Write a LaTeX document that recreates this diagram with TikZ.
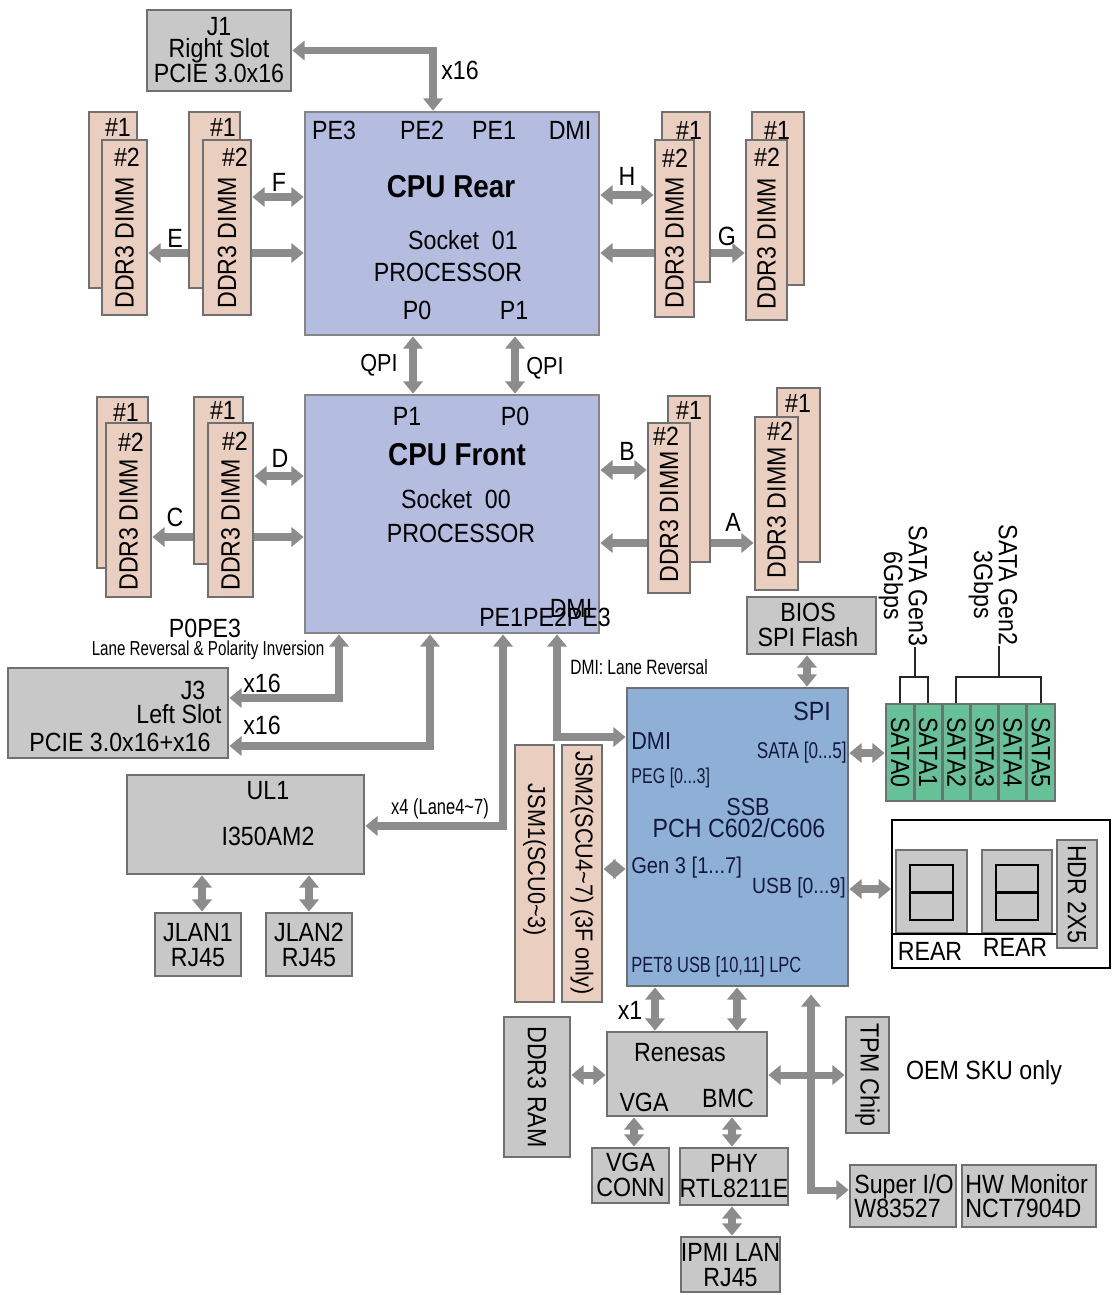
\documentclass[tikz,border=0pt]{standalone}
\usepackage{fontspec}
\setmainfont[FakeStretch=0.88]{Liberation Sans}
\newfontfamily\condf[FakeStretch=0.75]{Liberation Sans}
\usetikzlibrary{arrows.meta,fit,backgrounds}
\definecolor{boxgray}{RGB}{200,200,200}
\definecolor{bdr}{RGB}{112,112,112}
\definecolor{cpufill}{RGB}{180,188,224}
\definecolor{pchfill}{RGB}{143,176,214}
\definecolor{dimmfill}{RGB}{234,206,192}
\definecolor{satafill}{RGB}{102,192,152}
\definecolor{busgray}{RGB}{140,140,140}
\definecolor{navy}{RGB}{20,25,60}
\newcommand\fa{\fontsize{15}{14}\selectfont}
\tikzset{
 gbox/.style={draw=bdr, fill=boxgray, line width=1.6pt, inner sep=0pt},
 cpubox/.style={gbox, fill=cpufill, draw=bdr!85},
 pchbox/.style={gbox, fill=pchfill},
 dimm/.style={gbox, fill=dimmfill},
 satabox/.style={gbox, fill=satafill},
 txt/.style={inner sep=0pt, font=\fa, align=center},
 ptxt/.style={txt, text=navy},
 ctxt/.style={inner sep=0pt, align=center, font=\condf\fontsize{12}{13}\selectfont},
 bt/.tip={Triangle[width=11pt,length=7pt]},
 bus/.style={draw=busgray, line width=4pt},
 busd/.style={bus, bt-bt},
 busl/.style={bus, bt-},
 busr/.style={bus, -bt},
 brk/.style={draw=black!85, line width=1.2pt},
}
\begin{document}
\begin{tikzpicture}[x=0.02cm,y=-0.02cm]
\useasboundingbox (0,0) rectangle (1118,1295);
\begin{scope}[on background layer]
\fill[white] (0,0) rectangle (1118,1295);
\end{scope}

% ---------- J1 ----------
\node[gbox, fit={(147,10)(291,91)}] (j1) {};
\node[txt, font=\fontsize{15}{12.5}\selectfont] (j1t) at (219,50) {J1\\Right Slot\\PCIE 3.0x16};
\node[txt] (x16a) at (460,70) {x16};

% ---------- CPU Rear ----------
\node[cpubox, fit={(305,112)(599,335)}] (cpur) {};
\node[txt] (r-pe3) at (334,130) {PE3};
\node[txt] (r-pe2) at (422,130) {PE2};
\node[txt] (r-pe1) at (494,130) {PE1};
\node[txt] (r-dmi) at (570,130) {DMI};
\node[txt, font=\fontsize{18}{18}\bfseries] (r-title) at (451,187) {CPU Rear};
\node[txt] (r-sock) at (463,240) {Socket~~01};
\node[txt] (r-proc) at (448,272) {PROCESSOR};
\node[txt] (r-p0) at (417,310) {P0};
\node[txt] (r-p1) at (514,310) {P1};

% ---------- CPU Front ----------
\node[cpubox, fit={(305,395)(599,633)}] (cpuf) {};
\node[txt] (f-p1) at (407,416) {P1};
\node[txt] (f-p0) at (515,416) {P0};
\node[txt, font=\fontsize{18}{18}\bfseries] (f-title) at (457,455) {CPU Front};
\node[txt] (f-sock) at (456,499) {Socket~~00};
\node[txt] (f-proc) at (461,533) {PROCESSOR};
\node[txt] (f-pe) at (545,617) {PE1PE2PE3};
\node[txt] (f-dmi) at (571,608) {DMI};
\node[txt, font=\fontsize{14}{14}\selectfont] (qpi1) at (379,365) {QPI};
\node[txt, font=\fontsize{14}{14}\selectfont] (qpi2) at (545,368) {QPI};

% ---------- DIMMs top-left ----------
\node[dimm, fit={(89,112)(137,288)}] (e1) {};
\node[txt] (e1l) at (118,127) {\#1};
\node[dimm, fit={(102,140)(147,315)}] (e2) {};
\node[txt] (e2l) at (127,157) {\#2};
\node[txt, rotate=90] (e2t) at (124.5,243) {DDR3 DIMM};
\node[dimm, fit={(189,112)(240,288)}] (f1) {};
\node[txt] (f1l) at (223,127) {\#1};
\node[dimm, fit={(203,140)(251,315)}] (f2) {};
\node[txt] (f2l) at (235,157) {\#2};
\node[txt, rotate=90] (f2t) at (227,243) {DDR3 DIMM};
\node[txt] (lblF) at (279,182) {F};
\node[txt] (lblE) at (175,238) {E};

% ---------- DIMMs top-right ----------
\node[dimm, fit={(662,112)(710,282)}] (h1) {};
\node[txt] (h1l) at (689,130) {\#1};
\node[dimm, fit={(655,140)(694,317)}] (h2) {};
\node[txt] (h2l) at (675,158) {\#2};
\node[txt, rotate=90] (h2t) at (674.5,243) {DDR3 DIMM};
\node[dimm, fit={(752,112)(804,285)}] (g1) {};
\node[txt] (g1l) at (777,130) {\#1};
\node[dimm, fit={(746,140)(787,320)}] (g2) {};
\node[txt] (g2l) at (767,157) {\#2};
\node[txt, rotate=90] (g2t) at (766.5,244) {DDR3 DIMM};
\node[txt] (lblH) at (627,176) {H};
\node[txt] (lblG) at (727,236) {G};

% ---------- DIMMs bottom-left ----------
\node[dimm, fit={(97,397)(148,568)}] (c1) {};
\node[txt] (c1l) at (126,412) {\#1};
\node[dimm, fit={(106,423)(151,597)}] (c2) {};
\node[txt] (c2l) at (131,442) {\#2};
\node[txt, rotate=90] (c2t) at (128.5,525) {DDR3 DIMM};
\node[dimm, fit={(194,397)(243,564)}] (d1) {};
\node[txt] (d1l) at (223,410) {\#1};
\node[dimm, fit={(208,423)(253,597)}] (d2) {};
\node[txt] (d2l) at (235,441) {\#2};
\node[txt, rotate=90] (d2t) at (230.5,525) {DDR3 DIMM};
\node[txt] (lblD) at (280,458) {D};
\node[txt] (lblC) at (175,517) {C};

% ---------- DIMMs bottom-right ----------
\node[dimm, fit={(668,396)(710,562)}] (b1) {};
\node[txt] (b1l) at (689,410) {\#1};
\node[dimm, fit={(648,423)(690,593)}] (b2) {};
\node[txt] (b2l) at (666,436) {\#2};
\node[txt, rotate=90] (b2t) at (669,517) {DDR3 DIMM};
\node[dimm, fit={(777,388)(820,562)}] (a1) {};
\node[txt] (a1l) at (798,403) {\#1};
\node[dimm, fit={(755,417)(798,590)}] (a2) {};
\node[txt] (a2l) at (780,431) {\#2};
\node[txt, rotate=90] (a2t) at (776.5,513) {DDR3 DIMM};
\node[txt] (lblB) at (627,451) {B};
\node[txt] (lblA) at (733,522) {A};

% ---------- J3, UL1, JLAN ----------
\node[txt] (p0pe3) at (205,628) {P0PE3};
\node[ctxt, font=\condf\fontsize{11.5}{12}\selectfont] (lrpi) at (208,650) {Lane Reversal \& Polarity Inversion};
\node[gbox, fit={(8,668)(228,758)}] (j3) {};
\node[txt] (j3a) at (193,690) {J3};
\node[txt] (j3b) at (179,714) {Left Slot};
\node[txt] (j3c) at (120,742) {PCIE 3.0x16+x16};
\node[txt] (x16b) at (262,683) {x16};
\node[txt] (x16c) at (262,725) {x16};

\node[gbox, fit={(127,775)(364,874)}] (ul1) {};
\node[txt] (ul1a) at (268,791) {UL1};
\node[txt] (ul1b) at (268,836) {I350AM2};
\node[ctxt, font=\condf\fontsize{12.5}{13}\selectfont] (x4) at (440,809) {x4 (Lane4\textasciitilde7)};

\node[gbox, fit={(155,913)(241,976)}] (jlan1) {};
\node[txt] (jlan1t) at (198,945) {JLAN1\\RJ45};
\node[gbox, fit={(266,913)(352,976)}] (jlan2) {};
\node[txt] (jlan2t) at (309,945) {JLAN2\\RJ45};

% ---------- JSM ----------
\node[dimm, fit={(515,745)(554,1002)}] (jsm1) {};
\node[txt, rotate=-90, font=\fontsize{14}{14}\selectfont] (jsm1t) at (534.5,860) {JSM1(SCU0\textasciitilde3)};
\node[dimm, fit={(562,745)(602,1002)}] (jsm2) {};
\node[txt, rotate=-90, font=\fontsize{14}{14}\selectfont] (jsm2t) at (582,873) {JSM2(SCU4\textasciitilde7) (3F only)};

% ---------- PCH ----------
\node[txt, anchor=west, font=\condf\fontsize{11.8}{12}\selectfont] (dmilr) at (570,667) {DMI: Lane Reversal};
\node[pchbox, fit={(627,688)(848,986)}] (pch) {};
\node[ptxt] (p-spi) at (812,711) {SPI};
\node[ptxt, anchor=west, font=\fontsize{14}{14}\selectfont] (p-dmi) at (631,741) {DMI};
\node[ptxt, anchor=east, font=\condf\fontsize{13}{13}\selectfont] (p-sata) at (847,753) {SATA [0...5]};
\node[ptxt, anchor=west, font=\condf\fontsize{12.2}{13}\selectfont] (p-peg) at (631,778) {PEG [0...3]};
\node[ptxt, font=\fontsize{14}{14}\selectfont] (p-ssb) at (748,807) {SSB};
\node[ptxt] (p-name) at (739,828) {PCH C602/C606};
\node[ptxt, anchor=west, font=\fontsize{13}{13}\selectfont] (p-gen3) at (631,868) {Gen 3 [1...7]};
\node[ptxt, anchor=east, font=\fontsize{12.5}{13}\selectfont] (p-usb) at (846,888) {USB [0...9]};
\node[ptxt, anchor=west, font=\condf\fontsize{12.5}{13}\selectfont] (p-pet) at (631,967) {PET8 USB [10,11] LPC};

\node[gbox, fit={(747,597)(876,654)}] (bios) {};
\node[txt] (biost) at (808,625) {BIOS\\SPI Flash};

% ---------- SATA ----------
\foreach \i in {0,...,5}{
  \node[satabox, fit={(886+28.17*\i,704)(886+28.17*\i+28.17,801)}] (sata\i) {};
  \node[txt, rotate=-90] (sata\i t) at (sata\i.center) {SATA\i};
}
\node[txt, rotate=-90] (gen3) at (903,586) {SATA Gen3\\6Gbps};
\node[txt, rotate=-90] (gen2) at (993,585) {SATA Gen2\\3Gbps};
\coordinate (g3j) at (915,677);
\coordinate (g2j) at (999,677);
\draw[brk] (sata0.north) |- (g3j) -| (sata1.north);
\draw[brk] (g3j) -- (g3j |- gen3.east);
\draw[brk] (sata2.north) |- (g2j) -| (sata5.north);
\draw[brk] (g2j) -- (g2j |- gen2.east);

% ---------- USB / REAR ----------
\node[draw=black, fill=white, line width=1.2pt, inner sep=0pt, fit={(892,820)(1110,968)}] (usb) {};
\node[gbox, fit={(896,850)(967,933)}] (rear1) {};
\node[draw=black, fill=boxgray, line width=1.2pt, inner sep=0pt, fit={(910,865)(953,920)}] (rear1i) {};
\draw[line width=1.2pt] (rear1i.west) -- (rear1i.east);
\node[gbox, fit={(982,850)(1052,933)}] (rear2) {};
\node[draw=black, fill=boxgray, line width=1.2pt, inner sep=0pt, fit={(996,865)(1038,920)}] (rear2i) {};
\draw[line width=1.2pt] (rear2i.west) -- (rear2i.east);
\node[gbox, fit={(1057,840)(1097,948)}] (hdr) {};
\node[txt, rotate=-90] (hdrt) at (hdr.center) {HDR 2X5};
\draw[line width=1.6pt] (usb.west |- 0,934) -- (hdr.west |- 0,934);
\node[txt] (rear1t) at (930,951) {REAR};
\node[txt] (rear2t) at (1015,947) {REAR};

% ---------- Bottom ----------
\node[txt] (x1) at (630,1010) {x1};
\node[gbox, fit={(504,1017)(570,1157)}] (ddr) {};
\node[txt, rotate=-90] (ddrt) at (ddr.center) {DDR3 RAM};
\node[gbox, fit={(607,1032)(767,1116)}] (ren) {};
\node[txt] (rena) at (680,1053) {Renesas};
\node[txt] (renb) at (644,1102) {VGA};
\node[txt] (renc) at (728,1098) {BMC};
\node[gbox, fit={(592,1148)(669,1203)}] (vga) {};
\node[txt] (vgat) at (630.5,1175) {VGA\\CONN};
\node[gbox, fit={(680,1148)(788,1205)}] (phy) {};
\node[txt] (phyt) at (734,1176) {PHY\\RTL8211E};
\node[gbox, fit={(681,1237)(780,1292)}] (ipmi) {};
\node[txt] (ipmit) at (730.5,1265) {IPMI LAN\\RJ45};
\node[gbox, fit={(846,1017)(889,1133)}] (tpm) {};
\node[txt, rotate=-90] (tpmt) at (tpm.center) {TPM Chip};
\node[txt] (oem) at (984,1073) {OEM SKU only};
\node[gbox, fit={(850,1165)(956,1227)}] (sio) {};
\node[txt, anchor=west, align=left] (siot) at (854,1196) {Super I/O\\W83527};
\node[gbox, fit={(962,1165)(1096,1227)}] (hwm) {};
\node[txt, anchor=west, align=left] (hwmt) at (965,1196) {HW Monitor\\NCT7904D};

% ---------- connectors ----------
\begin{scope}[on background layer]
\draw[busd] (j1.east) -| (cpur.north -| 433,0);
\draw[busd] (cpur.south -| 413,0) -- (cpuf.north -| 413,0);
\draw[busd] (cpur.south -| 515,0) -- (cpuf.north -| 515,0);
\draw[busd] (f2.east |- 0,197) -- (cpur.west |- 0,197);
\draw[busd] (e2.east |- 0,253) -- (cpur.west |- 0,253);
\draw[busd] (cpur.east |- 0,195) -- (h2.west |- 0,195);
\draw[busd] (cpur.east |- 0,253) -- (g2.west |- 0,253);
\draw[busd] (d2.east |- 0,476) -- (cpuf.west |- 0,476);
\draw[busd] (c2.east |- 0,537) -- (cpuf.west |- 0,537);
\draw[busd] (cpuf.east |- 0,470) -- (b2.west |- 0,470);
\draw[busd] (cpuf.east |- 0,543) -- (a2.west |- 0,543);
\draw[busd] (cpuf.south -| 339,0) |- (j3.east |- 0,698);
\draw[busd] (cpuf.south -| 430,0) |- (j3.east |- 0,746);
\draw[busd] (cpuf.south -| 503,0) |- (ul1.east |- 0,826);
\draw[busd] (cpuf.south -| 557,0) |- (pch.west |- 0,737);
\draw[busd] (ul1.south -| 202,0) -- (jlan1.north -| 202,0);
\draw[busd] (ul1.south -| 309,0) -- (jlan2.north -| 309,0);
\draw[busd] (bios.south -| 807,0) -- (pch.north -| 807,0);
\draw[busd] (pch.east |- 0,753) -- (sata0.west |- 0,753);
\draw[busd] (pch.east |- 0,889) -- (usb.west |- 0,889);
\draw[busd] (jsm2.east |- 0,869) -- (pch.west |- 0,869);
\draw[busd] (pch.south -| 655,0) -- (ren.north -| 655,0);
\draw[busd] (pch.south -| 737,0) -- (ren.north -| 737,0);
\draw[busd, shorten <=4pt] (pch.south -| 811,0) |- (sio.west |- 0,1190);
\draw[busd] (ren.east |- 0,1075) -- (tpm.west |- 0,1075);
\draw[busd] (ddr.east |- 0,1075) -- (ren.west |- 0,1075);
\draw[busd] (ren.south -| 634,0) -- (vga.north -| 634,0);
\draw[busd] (ren.south -| 732,0) -- (phy.north -| 732,0);
\draw[busd] (phy.south -| 732,0) -- (ipmi.north -| 732,0);
\end{scope}
\end{tikzpicture}
\end{document}
